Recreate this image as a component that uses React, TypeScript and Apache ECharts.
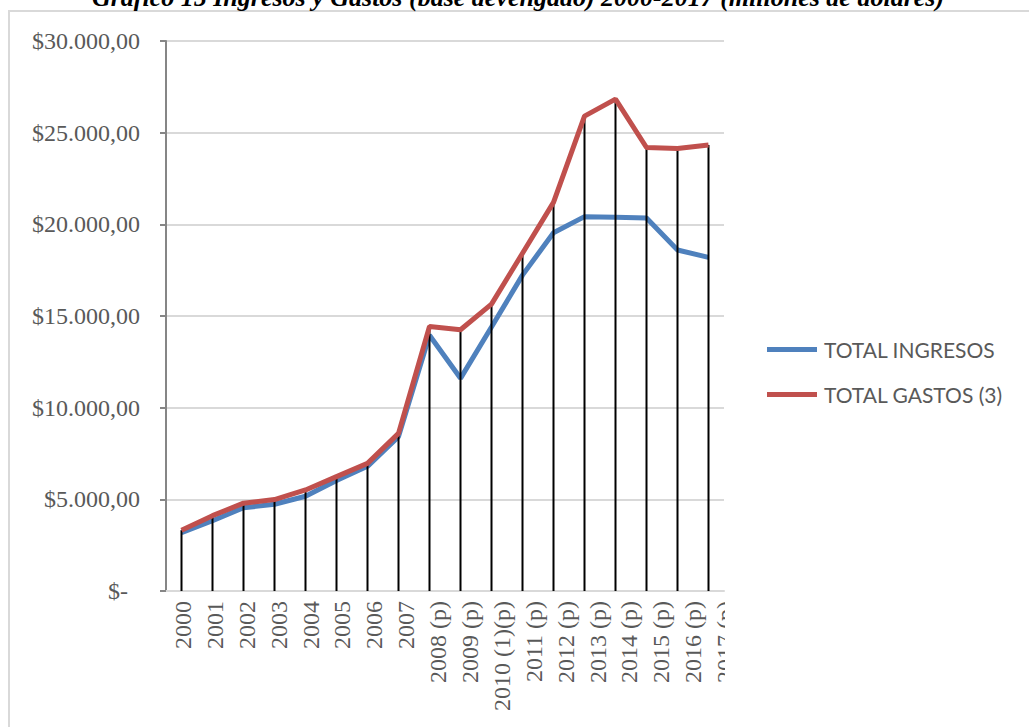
import React, { useEffect, useRef } from "react";
import * as echarts from "echarts";

const categories = [
  "2000", "2001", "2002", "2003", "2004", "2005", "2006", "2007",
  "2008 (p)", "2009 (p)", "2010 (1)(p)", "2011 (p)", "2012 (p)", "2013 (p)",
  "2014 (p)", "2015 (p)", "2016 (p)", "2017 (p)",
];
const ingresos = [
  3180, 3830, 4540, 4730, 5170, 6030, 6800, 8420,
  13950, 11600, 14400, 17230, 19540, 20420, 20380, 20340, 18600, 18200,
];
const gastos = [
  3310, 4110, 4790, 4990, 5510, 6240, 6960, 8600,
  14430, 14250, 15650, 18420, 21200, 25900, 26830, 24190, 24140, 24330,
];
const titleText =
  "Gráfico 15 Ingresos y Gastos (base devengado) 2000-2017 (millones de dólares)";

function fmt(v: number): string {
  if (v === 0) return "{z|$-}";
  const s = Math.round(v).toString().replace(/\B(?=(\d{3})+(?!\d))/g, ".");
  return "$" + s + ",00";
}

export default function App() {
  const ref = useRef<HTMLDivElement>(null);
  useEffect(() => {
    if (!ref.current) return;
    const chart = echarts.init(ref.current, null, { renderer: "svg" });
    const serif = "'Liberation Serif', 'Times New Roman', serif";
    chart.setOption({
      animation: false,
      backgroundColor: "#ffffff",
      grid: [
        { left: 166, right: 305, top: 41, bottom: 136, containLabel: false },
        { left: 167, right: 288, top: 41, bottom: 136, containLabel: false },
      ],
      graphic: [
        {
          type: "rect",
          shape: { x: 9, y: 11, width: 1100, height: 800 },
          style: { fill: "none", stroke: "#d9d9d9", lineWidth: 2 },
          z: 0,
        },
        {
          type: "rect",
          shape: { x: 725, y: 596, width: 30, height: 140 },
          style: { fill: "#ffffff" },
          z: 100,
        },
        {
          type: "text",
          x: 518,
          y: 10,
          style: {
            text: titleText,
            font: "italic bold 26px " + serif,
            fill: "#000000",
            align: "center",
            verticalAlign: "bottom",
          },
          z: 100,
        },
      ],
      legend: {
        data: ["TOTAL INGRESOS", "TOTAL GASTOS (3)"],
        orient: "vertical",
        left: 762,
        top: 334,
        icon: "rect",
        itemWidth: 50,
        itemHeight: 5,
        itemGap: 24,
        textStyle: { fontFamily: "Lato", fontSize: 21, color: "#595959", padding: [0, 0, 0, 2] },
      },
      xAxis: [
        {
          type: "category",
          gridIndex: 0,
          data: categories,
          boundaryGap: true,
          axisLine: { show: true, lineStyle: { color: "#d9d9d9", width: 2 } },
          axisTick: { show: false },
          axisLabel: { show: false },
          splitLine: { show: false },
        },
        {
          type: "category",
          gridIndex: 1,
          data: categories,
          boundaryGap: true,
          axisLine: { show: false },
          axisTick: { show: false },
          axisLabel: {
            rotate: 90,
            interval: 0,
            margin: 10,
            fontFamily: serif,
            fontSize: 24,
            color: "#595959",
          },
          splitLine: { show: false },
        },
      ],
      yAxis: [
        {
          type: "value",
          gridIndex: 0,
          min: 0,
          max: 30000,
          interval: 5000,
          axisLine: { show: true, lineStyle: { color: "#868686", width: 2 } },
          axisTick: { show: true, length: 6, lineStyle: { color: "#868686", width: 2 } },
          axisLabel: {
            margin: 26,
            fontFamily: serif,
            fontSize: 24,
            color: "#595959",
            formatter: (v: number) => fmt(v),
            rich: {
              z: { fontFamily: serif, fontSize: 24, color: "#595959", padding: [0, 12, 0, 0] },
            },
          },
          splitLine: { show: true, lineStyle: { color: "#d9d9d9", width: 2 } },
        },
        {
          type: "value",
          gridIndex: 1,
          min: 0,
          max: 30000,
          interval: 5000,
          show: false,
          splitLine: { show: false },
        },
      ],
      series: [
        {
          name: "TOTAL INGRESOS",
          type: "line",
          data: ingresos,
          symbol: "none",
          lineStyle: { color: "#4f81bd", width: 5 },
          itemStyle: { color: "#4f81bd" },
          z: 2,
        },
        {
          name: "drop",
          type: "bar",
          data: gastos,
          barWidth: 2,
          itemStyle: { color: "#000000" },
          z: 3,
        },
        {
          name: "TOTAL GASTOS (3)",
          type: "line",
          data: gastos,
          symbol: "none",
          lineStyle: { color: "#c0504d", width: 5 },
          itemStyle: { color: "#c0504d" },
          z: 4,
        },
      ],
    });
    return () => chart.dispose();
  }, []);
  return (
    <div
      ref={ref}
      style={{ position: "absolute", left: 0, top: 0, width: 1029, height: 727 }}
    />
  );
}
